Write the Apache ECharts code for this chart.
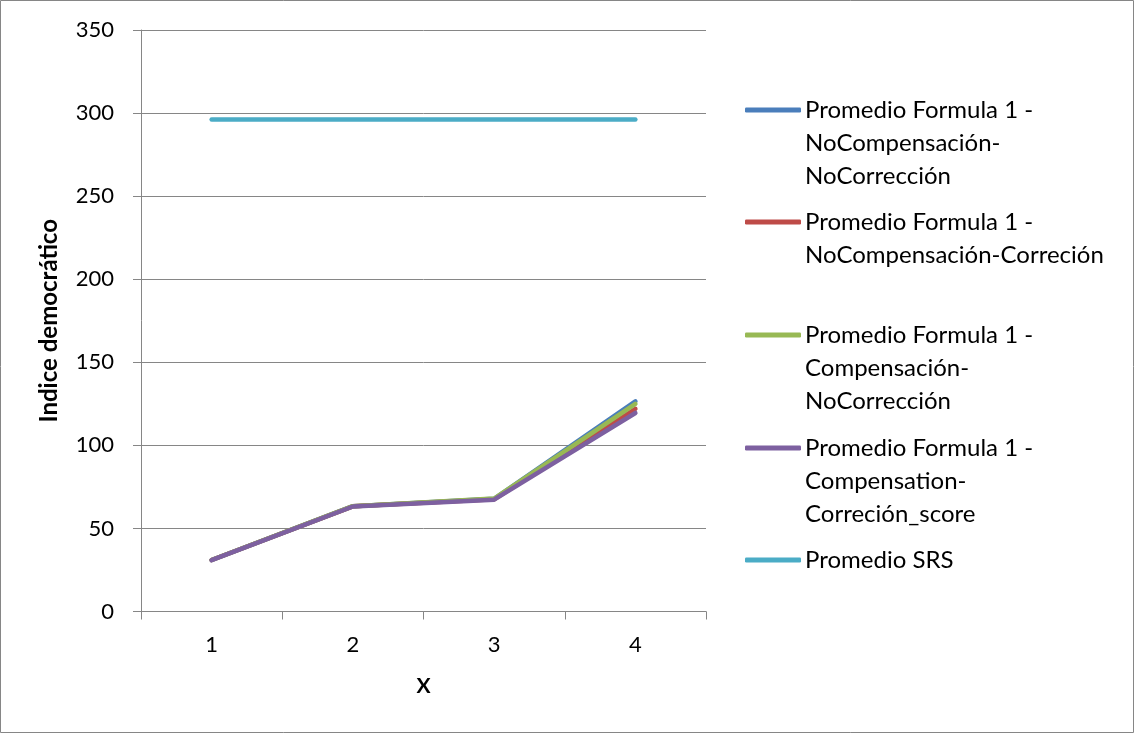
<!DOCTYPE html>
<html>
<head>
<meta charset="utf-8">
<script src="https://cdn.jsdelivr.net/npm/echarts@6/dist/echarts.min.js"></script>
<style>
  html, body { margin: 0; padding: 0; background: #fff; }
  #chart { width: 1134px; height: 733px; }
</style>
</head>
<body>
<div id="chart"></div>
<script>
// Categories on the X axis
const categories = ['1', '2', '3', '4'];

// Series values
const f1NoCompNoCorr = [31.0, 63.4, 67.8, 126.5];
const f1NoCompCorr   = [31.0, 63.3, 67.5, 122.0];
const f1CompNoCorr   = [31.0, 63.4, 68.0, 125.0];
const f1CompCorr     = [30.9, 63.2, 67.3, 119.5];
const srs            = [296.2, 296.2, 296.2, 296.2];

// Series names and how each is wrapped in the legend
const seriesNames = [
  'Promedio Formula 1 - NoCompensación-NoCorrección',
  'Promedio Formula 1 - NoCompensación-Correción',
  'Promedio Formula 1 - Compensación-NoCorrección',
  'Promedio Formula 1 - Compensation-Correción_score',
  'Promedio SRS'
];
const legendLines = [
  ['Promedio Formula 1 -', 'NoCompensación-', 'NoCorrección'],
  ['Promedio Formula 1 -', 'NoCompensación-Correción'],
  ['Promedio Formula 1 -', 'Compensación-', 'NoCorrección'],
  ['Promedio Formula 1 -', 'Compensation-', 'Correción_score'],
  ['Promedio SRS']
];
const seriesValues = [f1NoCompNoCorr, f1NoCompCorr, f1CompNoCorr, f1CompCorr, srs];
const colors = ['#4A7EBB', '#BE4B48', '#98B954', '#7D60A0', '#4BACC6'];

// Y axis ticks
const yMin = 0, yMax = 350, yStep = 50;

const FONT = 'Lato';
const LINE_H = 33;
const legendIconCenters = [110, 222, 335, 448, 560];

// One legend block per series so every entry sits in its own slot,
// with the swatch level with the first line of its label.
const legends = seriesNames.map((name, i) => {
  const n = legendLines[i].length;
  const blockH = (2 * n - 1) * LINE_H;
  return {
    data: [name],
    orient: 'vertical',
    left: 745,
    top: legendIconCenters[i] - blockH / 2,
    padding: 0,
    itemWidth: 56,
    itemHeight: 5,
    itemGap: 0,
    icon: 'roundRect',
    selectedMode: false,
    textStyle: { fontFamily: FONT, fontSize: 24, color: '#000', lineHeight: LINE_H, padding: [0, 0, 0, -1] },
    formatter: () => '\n'.repeat(n - 1) + legendLines[i].join('\n')
  };
});

const chart = echarts.init(document.getElementById('chart'), null, { renderer: 'canvas' });
chart.setOption({
  animation: false,
  backgroundColor: '#fff',
  color: colors,
  grid: { left: 141, right: 428, top: 30, bottom: 121.5, containLabel: false },
  legend: legends,
  xAxis: {
    type: 'category',
    data: categories,
    boundaryGap: true,
    name: 'X',
    nameLocation: 'middle',
    nameGap: 64,
    nameTextStyle: { fontFamily: FONT, fontSize: 21, fontWeight: 'bold', color: '#000' },
    axisLine: { lineStyle: { color: '#868686', width: 1 } },
    axisTick: { show: true, length: 8, inside: false, lineStyle: { color: '#868686' } },
    axisLabel: { fontFamily: FONT, fontSize: 22, color: '#000', margin: 22 },
    splitLine: { show: false }
  },
  yAxis: {
    type: 'value',
    min: yMin,
    max: yMax,
    interval: yStep,
    name: 'Indice democrático',
    nameLocation: 'middle',
    nameGap: 80,
    nameTextStyle: { fontFamily: FONT, fontSize: 24, fontWeight: 'bold', color: '#000' },
    axisLine: { show: true, lineStyle: { color: '#868686', width: 1 } },
    axisTick: { show: true, length: 8, inside: false, lineStyle: { color: '#868686' } },
    axisLabel: { fontFamily: FONT, fontSize: 22, color: '#000', margin: 27 },
    splitLine: { show: true, lineStyle: { color: '#868686', width: 1 } }
  },
  series: seriesNames.map((name, i) => ({
    name: name,
    type: 'line',
    data: seriesValues[i],
    showSymbol: false,
    symbol: 'none',
    lineStyle: { width: 4.5, cap: 'round', join: 'round', color: colors[i] },
    itemStyle: { color: colors[i] },
    z: 2 + i
  })),
  graphic: [{
    type: 'rect',
    silent: true,
    shape: { x: 0.5, y: 0.5, width: 1133, height: 732 },
    style: { fill: null, stroke: '#868686', lineWidth: 1 }
  }]
});
</script>
</body>
</html>
